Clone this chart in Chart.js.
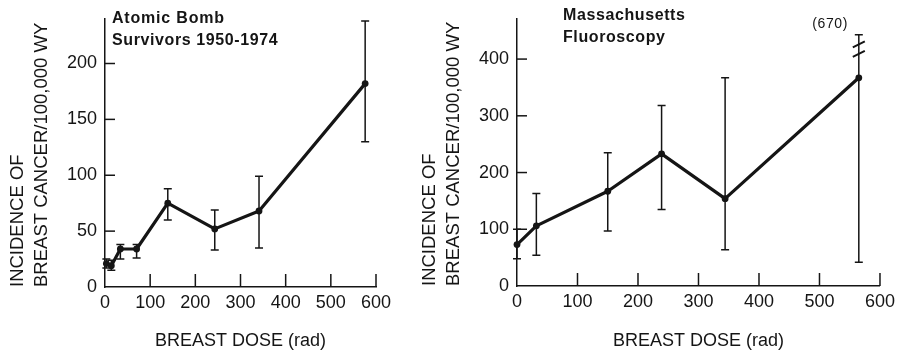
<!DOCTYPE html>
<html><head><meta charset="utf-8">
<script src="https://cdn.jsdelivr.net/npm/chart.js@4"></script>
<style>
html,body{margin:0;padding:0;background:#fff;}
#wrap{position:relative;width:900px;height:352px;overflow:hidden;background:#fff;}
canvas{position:absolute;top:0;}
#c1{left:0}
#c2{left:410px}
</style></head><body>
<div id="wrap"><canvas id="c1" width="410" height="352"></canvas><canvas id="c2" width="490" height="352"></canvas></div>
<script>
// ---- Atomic Bomb Survivors 1950-1974 ----
const bombDose      = [3, 14, 34, 70, 139, 243, 341, 576];
const bombIncidence = [21, 19, 34, 34, 75, 52, 68, 182];
const bombErrLow    = [17, 15, 25, 26, 60, 33, 35, 130];
const bombErrHigh   = [25, 24, 38, 38, 88, 69, 99, 238];
const bombYTicks    = [0, 50, 100, 150, 200];
const bombXTicks    = [0, 100, 200, 300, 400, 500, 600];

// ---- Massachusetts Fluoroscopy ----
const fluoroDose      = [0, 32, 150, 239, 344, 565];
const fluoroIncidence = [73, 106, 167, 233, 154, 367];
const fluoroErrLow    = [48, 54, 97, 135, 64, 42];
const fluoroErrHigh   = [100, 163, 235, 318, 367, 670];
const fluoroYTicks    = [0, 100, 200, 300, 400];
const fluoroXTicks    = [0, 100, 200, 300, 400, 500, 600];
const fluoroBreakDrawnAt = 443;      // off-scale upper limit (670) drawn here
const fluoroBreakMarks   = [426, 409];

const INK = '#151515';
const FONT = 'Liberation Sans, Arial, Helvetica, sans-serif';

const errPlugin = {
  id: 'err',
  beforeDatasetsDraw(chart, args, o) {
    const {ctx} = chart, xs = chart.scales.x, ys = chart.scales.y;
    ctx.save();
    ctx.strokeStyle = INK; ctx.lineWidth = 1.5;
    o.x.forEach((xv, i) => {
      const px = xs.getPixelForValue(xv);
      let hi = o.high[i];
      const broken = o.breakAt != null && hi > o.breakAt;
      if (broken) hi = o.breakAt;
      const yl = ys.getPixelForValue(o.low[i]), yh = ys.getPixelForValue(hi);
      ctx.beginPath();
      ctx.moveTo(px, yl); ctx.lineTo(px, yh);
      ctx.moveTo(px - o.cap, yl); ctx.lineTo(px + o.cap, yl);
      ctx.moveTo(px - o.cap, yh); ctx.lineTo(px + o.cap, yh);
      ctx.stroke();
      if (broken) {
        ctx.save(); ctx.lineWidth = 2;
        o.breakMarks.forEach(bv => {
          const by = ys.getPixelForValue(bv);
          ctx.beginPath(); ctx.moveTo(px - 6, by + 3); ctx.lineTo(px + 6, by - 3); ctx.stroke();
        });
        ctx.restore();
      }
    });
    ctx.restore();
  },
  afterDraw(chart, args, o) {
    const {ctx, chartArea} = chart, xs = chart.scales.x, ys = chart.scales.y;
    ctx.save();
    ctx.strokeStyle = INK; ctx.lineWidth = 1.5;
    ys.ticks.forEach(t => {
      if (t.value === 0) return;
      const py = ys.getPixelForValue(t.value);
      ctx.beginPath(); ctx.moveTo(chartArea.left, py); ctx.lineTo(chartArea.left + 10, py); ctx.stroke();
    });
    xs.ticks.forEach(t => {
      if (t.value === 0) return;
      const px = xs.getPixelForValue(t.value);
      ctx.beginPath(); ctx.moveTo(px, chartArea.bottom); ctx.lineTo(px, chartArea.bottom - 13); ctx.stroke();
    });
    ctx.fillStyle = INK;
    ctx.textBaseline = 'alphabetic';
    (o.notes || []).forEach(n => {
      ctx.font = n.font;
      ctx.textAlign = n.align || 'left';
      if ('letterSpacing' in ctx) ctx.letterSpacing = n.spacing || '0px';
      ctx.fillText(n.text, n.x, n.y);
    });
    ctx.restore();
  }
};

function makeChart(id, c) {
  const tickFont = {family: FONT, size: 18};
  return new Chart(document.getElementById(id), {
    type: 'line',
    data: {datasets: [{
      data: c.x.map((xv, i) => ({x: xv, y: c.y[i]})),
      borderColor: INK, borderWidth: 3.2, tension: 0, clip: false,
      pointRadius: 3.4, pointBackgroundColor: INK, pointBorderWidth: 0,
      borderJoinStyle: 'round'
    }]},
    options: {
      responsive: false, animation: false, devicePixelRatio: 1,
      layout: {padding: c.pad},
      plugins: {
        legend: {display: false}, tooltip: {enabled: false},
        err: {x: c.x, low: c.low, high: c.high, cap: 4, breakAt: c.breakAt, breakMarks: c.breakMarks, notes: c.notes}
      },
      scales: {
        x: {
          type: 'linear', min: 0, max: 600,
          afterBuildTicks: s => { s.ticks = c.xTicks.map(v => ({value: v})); },
          afterFit: s => { s.height = c.xh; },
          grid: {display: false, drawTicks: false},
          border: {display: true, color: INK, width: 1.5},
          ticks: {font: tickFont, color: INK, padding: 5, maxRotation: 0, autoSkip: false},
          title: {display: true, text: 'BREAST DOSE (rad)', color: INK,
                  font: {family: FONT, size: 18}, padding: {top: 0, bottom: 0}}
        },
        y: {
          type: 'linear', min: 0, max: c.ymax,
          afterBuildTicks: s => { s.ticks = c.yTicks.map(v => ({value: v})); },
          afterFit: s => { s.width = c.yw; },
          grid: {display: false, drawTicks: false},
          border: {display: true, color: INK, width: 1.5},
          ticks: {font: tickFont, color: INK, padding: 8, autoSkip: false},
          title: {display: true, text: ['INCIDENCE OF', 'BREAST CANCER/100,000 WY'], align: 'start',
                  color: INK, font: {family: FONT, size: 18.5, lineHeight: 1.3}, padding: {top: c.titlePad, bottom: 0}}
        }
      }
    },
    plugins: [errPlugin]
  });
}

makeChart('c1', {
  x: bombDose, y: bombIncidence, low: bombErrLow, high: bombErrHigh,
  xTicks: bombXTicks, yTicks: bombYTicks, ymax: 240,
  pad: {left: 0, right: 34, top: 11, bottom: 0}, yw: 105, xh: 65, titlePad: 6,
  notes: [
    {text: 'Atomic Bomb', x: 112, y: 23, font: 'bold 16px ' + FONT, spacing: '0.8px'},
    {text: 'Survivors 1950-1974', x: 112, y: 45, font: 'bold 16px ' + FONT, spacing: '0.6px'}
  ]
});

makeChart('c2', {
  x: fluoroDose, y: fluoroIncidence, low: fluoroErrLow, high: fluoroErrHigh,
  xTicks: fluoroXTicks, yTicks: fluoroYTicks, ymax: 471,
  breakAt: fluoroBreakDrawnAt, breakMarks: fluoroBreakMarks,
  pad: {left: 0, right: 18, top: 5, bottom: 0}, yw: 107, xh: 66, titlePad: 8,
  notes: [
    {text: 'Massachusetts', x: 153, y: 20, font: 'bold 16px ' + FONT, spacing: '0.6px'},
    {text: 'Fluoroscopy', x: 153, y: 42, font: 'bold 16px ' + FONT, spacing: '0.6px'},
    {text: '(670)', x: 438, y: 28, font: '14px ' + FONT, align: 'right', spacing: '0.6px'}
  ]
});
</script>
</body></html>
